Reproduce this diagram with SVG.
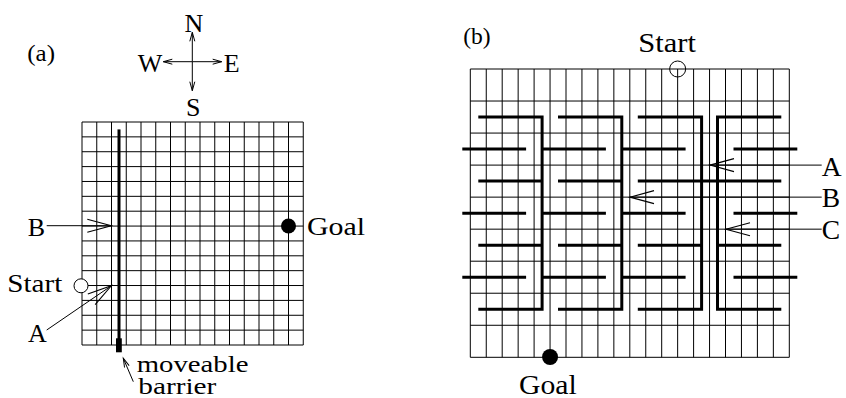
<svg xmlns="http://www.w3.org/2000/svg" width="846" height="398" viewBox="0 0 846 398">
<defs>
<style>
.grid{fill:none;stroke:#000;stroke-width:1}
.wall{fill:none;stroke:#000;stroke-width:3;stroke-linecap:butt;stroke-linejoin:miter}
.conn{fill:none;stroke:#000;stroke-width:1}
.big{marker-end:url(#ahBig)}
.t{font-family:"Liberation Serif","Times New Roman",serif;fill:#000}
.ta{font-size:26px}
.tb{font-size:27.5px}
.tl{font-size:24px}
.tm{font-size:24px}
</style>
<marker id="ahBig" viewBox="0 0 24 13" refX="24" refY="6.5" markerWidth="24" markerHeight="13" markerUnits="userSpaceOnUse" orient="auto" overflow="visible">
<path d="M0,0 L24,6.5 L0,13" fill="none" stroke="#000" stroke-width="1.1"/>
</marker>
<marker id="ahSmall" viewBox="0 0 9 5" refX="9" refY="2.5" markerWidth="9" markerHeight="5" markerUnits="userSpaceOnUse" orient="auto-start-reverse" overflow="visible">
<path d="M0,0 L9,2.5 L0,5" fill="none" stroke="#000" stroke-width="1"/>
</marker>
</defs>
<rect width="846" height="398" fill="#fff"/>

<!-- Panel (a) -->
<g id="label-a"><text class="t tl" x="27.3" y="61" textLength="27.7" lengthAdjust="spacingAndGlyphs">(a)</text></g>

<g id="compass">
<text class="t ta" x="194" y="31.7" text-anchor="middle">N</text>
<text class="t ta" x="150" y="71.7" text-anchor="middle">W</text>
<text class="t ta" x="231.7" y="71.7" text-anchor="middle">E</text>
<text class="t ta" x="193.3" y="116" text-anchor="middle">S</text>
</g>

<g id="grid-a">
<path class="grid" d="M82,122V345M96.75,122V345M111.5,122V345M126.25,122V345M141,122V345M155.75,122V345M170.5,122V345M185.25,122V345M200,122V345M214.75,122V345M229.5,122V345M244.25,122V345M259,122V345M273.75,122V345M288.5,122V345M303.25,122V345
M82,122H303.25M82,136.87H303.25M82,151.73H303.25M82,166.6H303.25M82,181.47H303.25M82,196.33H303.25M82,211.2H303.25M82,226.07H303.25M82,240.93H303.25M82,255.8H303.25M82,270.67H303.25M82,285.53H303.25M82,300.4H303.25M82,315.27H303.25M82,330.13H303.25M82,345H303.25"/>
</g>

<g id="barrier-a">
<path class="wall" d="M119,129.4V340"/>
<rect x="116" y="338.3" width="5.8" height="14" fill="#000"/>
</g>

<g id="goal-a">
<circle cx="288.5" cy="226.07" r="7.5" fill="#000"/>
<text class="t ta" x="307" y="234.5" textLength="58" lengthAdjust="spacingAndGlyphs">Goal</text>
</g>

<g id="start-a">
<circle cx="81" cy="285.8" r="7" fill="#fff" stroke="#000" stroke-width="1"/>
<text class="t ta" x="7.3" y="292.3" textLength="55" lengthAdjust="spacingAndGlyphs">Start</text>
</g>

<g id="label-B-a"><text class="t ta" x="36.3" y="235.7" text-anchor="middle">B</text></g>
<g id="label-A-a"><text class="t ta" x="37.3" y="341.7" text-anchor="middle">A</text></g>
<g id="label-barrier">
<text class="t tm" x="136.7" y="372" textLength="111.7" lengthAdjust="spacingAndGlyphs">moveable</text>
<text class="t tm" x="138.3" y="393.5" textLength="78" lengthAdjust="spacingAndGlyphs">barrier</text>
</g>

<!-- Panel (b) -->
<g id="label-b"><text class="t tl" x="463.3" y="44.2" textLength="27.4" lengthAdjust="spacingAndGlyphs">(b)</text></g>

<g id="grid-b">
<path class="grid" d="M470.3,69V357.3M486.25,69V357.3M502.2,69V357.3M518.15,69V357.3M534.1,69V357.3M550.05,69V357.3M566,69V357.3M581.95,69V357.3M597.9,69V357.3M613.85,69V357.3M629.8,69V357.3M645.75,69V357.3M661.7,69V357.3M677.65,69V357.3M693.6,69V357.3M709.55,69V357.3M725.5,69V357.3M741.45,69V357.3M757.4,69V357.3M773.35,69V357.3M789.3,69V357.3
M470.3,69H789.3M470.3,101.03H789.3M470.3,133.07H789.3M470.3,165.1H789.3M470.3,197.13H789.3M470.3,229.17H789.3M470.3,261.2H789.3M470.3,293.23H789.3M470.3,325.27H789.3M470.3,357.3H789.3"/>
</g>

<g id="walls-b">
<path class="wall" d="M478.3,117.05H542.1V309.23H478.3M478.3,181.1H542.1M478.3,245.17H542.1M462.3,149.08H526.1M462.3,213.14H526.1M462.3,277.2H526.1"/>
<path class="wall" d="M558,117.05H621.8V309.23H558M558,181.1H621.8M558,245.17H621.8M542.1,149.08H605.9M542.1,213.14H605.9M542.1,277.2H605.9"/>
<path class="wall" d="M637.8,117.05H701.6V309.23H637.8M637.8,181.1H781.3M637.8,245.17H701.6M621.8,149.08H685.6M621.8,213.14H685.6M621.8,277.2H685.6"/>
<path class="wall" d="M781.3,117.05H717.5V309.23H781.3M717.5,245.17H781.3M733.5,149.08H797.3M733.5,213.14H797.3M733.5,277.2H797.3"/>
</g>

<g id="start-b">
<circle cx="677.65" cy="69" r="8" fill="none" stroke="#000" stroke-width="1"/>
<text class="t tb" x="638.3" y="51.7" textLength="57.7" lengthAdjust="spacingAndGlyphs">Start</text>
</g>

<g id="goal-b">
<circle cx="550.05" cy="357" r="8" fill="#000"/>
<text class="t tb" x="519" y="393.5" textLength="57.7" lengthAdjust="spacingAndGlyphs">Goal</text>
</g>

<g id="labels-b">
<text class="t tb" x="821.7" y="176">A</text>
<text class="t tb" x="821.7" y="207.3">B</text>
<text class="t tb" x="821.7" y="239.3">C</text>
</g>

<g id="connectors">
<path class="conn" d="M192.3,61.7V32.3" marker-end="url(#ahSmall)"/>
<path class="conn" d="M192.3,61.7V90.7" marker-end="url(#ahSmall)"/>
<path class="conn" d="M192.3,61.7H163.3" marker-end="url(#ahSmall)"/>
<path class="conn" d="M192.3,61.7H221.7" marker-end="url(#ahSmall)"/>
<path class="conn big" d="M46.7,225.7H111.3"/>
<path class="conn big" d="M46.7,330L111.3,285.8"/>
<path class="conn" d="M133.3,381.7L123.3,358.3" marker-end="url(#ahSmall)"/>
<path class="conn big" d="M821.7,165.1H710"/>
<path class="conn big" d="M821.7,197.13H630"/>
<path class="conn big" d="M821.7,229.17H726"/>
</g>
</svg>
